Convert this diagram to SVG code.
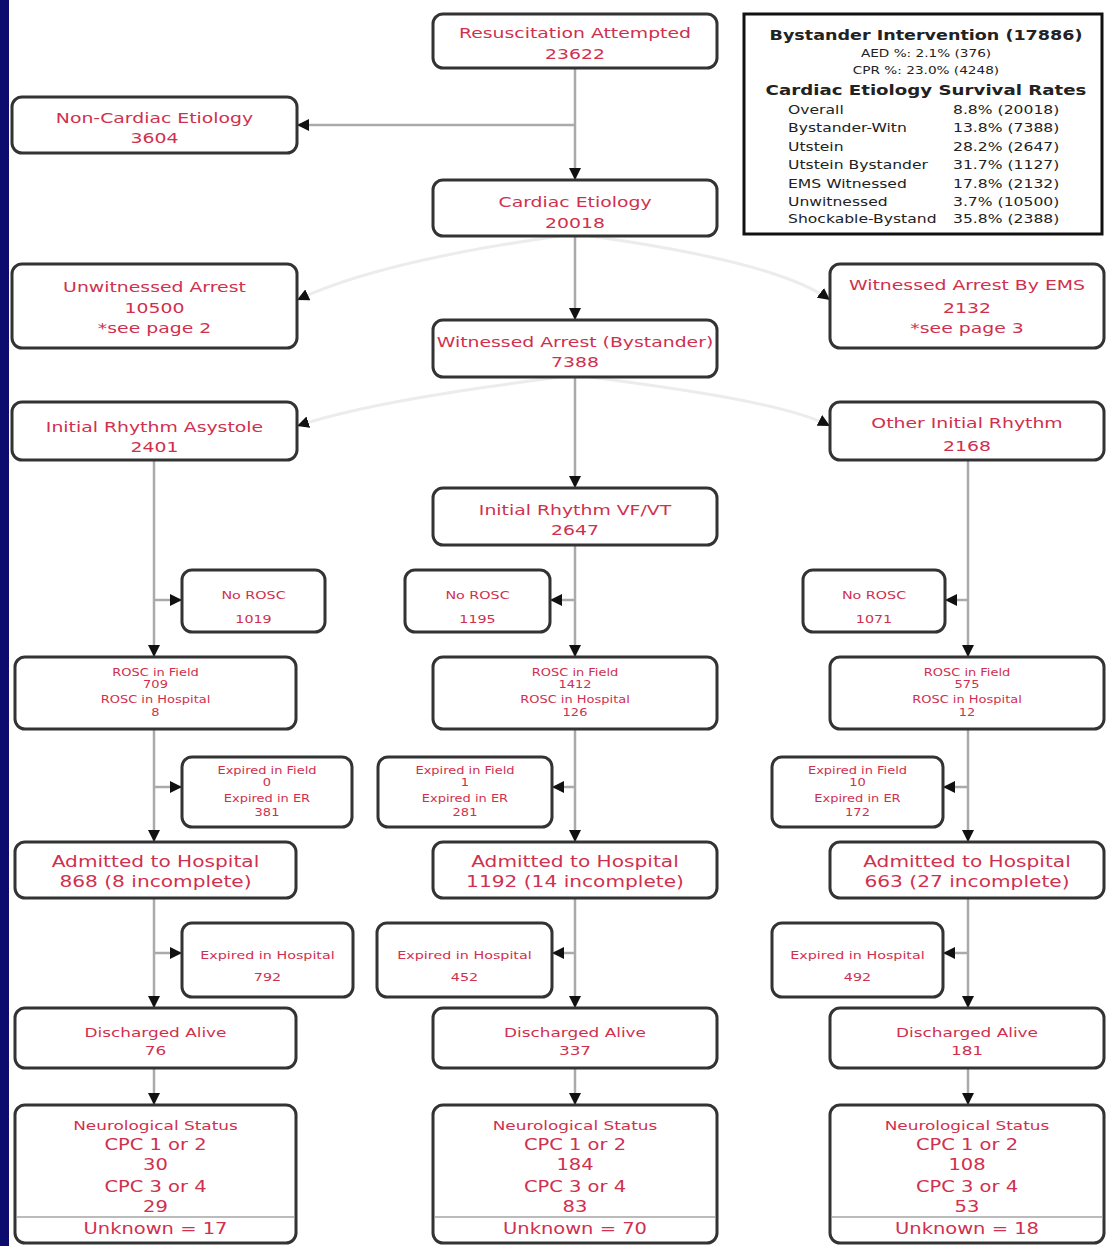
<svg xmlns="http://www.w3.org/2000/svg" width="1107" height="1246" viewBox="0 0 1107 1246">
<defs>
<style>
.box{fill:#fff;stroke:#333;stroke-width:3}
.t{font-family:"DejaVu Sans",sans-serif;fill:#d0304e;text-anchor:middle}
.m{font-size:14.5px}
.a{font-size:15.5px}
.d{font-size:13px}
.n{font-size:15px}
.s{font-size:11px}
.xs{font-size:10px}
.conn{stroke:#aaa;stroke-width:2.5;fill:none}
.faint{stroke:#ececec;stroke-width:3;fill:none}
.lg{font-family:"DejaVu Sans",sans-serif;fill:#222}
.lgb{font-weight:bold;text-anchor:middle}
</style>
<marker id="ah" markerUnits="userSpaceOnUse" markerWidth="12" markerHeight="12" refX="12" refY="6" orient="auto">
<path d="M0,0 L12,6 L0,12 z" fill="#111"/>
</marker>
</defs>
<rect x="0" y="0" width="1107" height="1246" fill="#fff"/>
<rect x="0" y="0" width="9" height="1246" fill="#0c0c6e"/>

<g id="connectors">
<path class="conn" d="M575,68 V180" marker-end="url(#ah)"/>
<path class="conn" d="M575,125 H297" marker-end="url(#ah)"/>
<path class="conn" d="M575,236 V320" marker-end="url(#ah)"/>
<path class="conn" d="M575,377 V488" marker-end="url(#ah)"/>
<path class="faint" d="M560,236 C460,250 360,270 297,300" marker-end="url(#ah)"/>
<path class="faint" d="M590,236 C690,250 790,270 830,300" marker-end="url(#ah)"/>
<path class="faint" d="M560,377 C460,390 360,405 297,426" marker-end="url(#ah)"/>
<path class="faint" d="M590,377 C690,390 790,405 830,426" marker-end="url(#ah)"/>
<path class="conn" d="M154,460 V657" marker-end="url(#ah)"/>
<path class="conn" d="M154,600 H182" marker-end="url(#ah)"/>
<path class="conn" d="M154,729 V842" marker-end="url(#ah)"/>
<path class="conn" d="M154,787 H182" marker-end="url(#ah)"/>
<path class="conn" d="M154,898 V1008" marker-end="url(#ah)"/>
<path class="conn" d="M154,953 H182" marker-end="url(#ah)"/>
<path class="conn" d="M154,1068 V1105" marker-end="url(#ah)"/>
<path class="conn" d="M575,545 V657" marker-end="url(#ah)"/>
<path class="conn" d="M575,600 H550" marker-end="url(#ah)"/>
<path class="conn" d="M575,729 V842" marker-end="url(#ah)"/>
<path class="conn" d="M575,787 H552" marker-end="url(#ah)"/>
<path class="conn" d="M575,898 V1008" marker-end="url(#ah)"/>
<path class="conn" d="M575,953 H552" marker-end="url(#ah)"/>
<path class="conn" d="M575,1068 V1105" marker-end="url(#ah)"/>
<path class="conn" d="M968,460 V657" marker-end="url(#ah)"/>
<path class="conn" d="M968,600 H945" marker-end="url(#ah)"/>
<path class="conn" d="M968,729 V842" marker-end="url(#ah)"/>
<path class="conn" d="M968,787 H943" marker-end="url(#ah)"/>
<path class="conn" d="M968,898 V1008" marker-end="url(#ah)"/>
<path class="conn" d="M968,953 H943" marker-end="url(#ah)"/>
<path class="conn" d="M968,1068 V1105" marker-end="url(#ah)"/>
</g>

<g id="legend">
<rect x="744" y="14" width="358" height="220" fill="#fff" stroke="#111" stroke-width="3"/>
<g class="lg" transform="translate(926 0) scale(1.3 1)">
<text class="lgb" y="40" font-size="13.5">Bystander Intervention (17886)</text>
<text y="57" font-size="10.5" text-anchor="middle">AED %: 2.1% (376)</text>
<text y="74" font-size="10.5" text-anchor="middle">CPR %: 23.0% (4248)</text>
<text class="lgb" y="95" font-size="14">Cardiac Etiology Survival Rates</text>
</g>
<g class="lg" font-size="12" transform="translate(788 0) scale(1.3 1)">
<text y="114">Overall</text>
<text y="132">Bystander-Witn</text>
<text y="151">Utstein</text>
<text y="169">Utstein Bystander</text>
<text y="188">EMS Witnessed</text>
<text y="206">Unwitnessed</text>
<text y="223">Shockable-Bystand</text>
</g>
<g class="lg" font-size="12" transform="translate(953 0) scale(1.3 1)">
<text y="114">8.8% (20018)</text>
<text y="132">13.8% (7388)</text>
<text y="151">28.2% (2647)</text>
<text y="169">31.7% (1127)</text>
<text y="188">17.8% (2132)</text>
<text y="206">3.7% (10500)</text>
<text y="223">35.8% (2388)</text>
</g>
</g>

<g id="resus"><rect class="box" x="433" y="14" width="284" height="54" rx="10"/>
<g class="t m" transform="translate(575 0) scale(1.3 1)"><text y="38">Resuscitation Attempted</text><text y="59">23622</text></g></g>

<g id="noncardiac"><rect class="box" x="12" y="97" width="285" height="56" rx="10"/>
<g class="t m" transform="translate(154.5 0) scale(1.3 1)"><text y="123">Non-Cardiac Etiology</text><text y="143">3604</text></g></g>

<g id="cardiac"><rect class="box" x="433" y="180" width="284" height="56" rx="10"/>
<g class="t m" transform="translate(575 0) scale(1.3 1)"><text y="207">Cardiac Etiology</text><text y="228">20018</text></g></g>

<g id="unwitnessed"><rect class="box" x="12" y="264" width="285" height="84" rx="10"/>
<g class="t m" transform="translate(154.5 0) scale(1.3 1)"><text y="292">Unwitnessed Arrest</text><text y="313">10500</text><text y="333">*see page 2</text></g></g>

<g id="witnessed_ems"><rect class="box" x="830" y="264" width="274" height="84" rx="10"/>
<g class="t m" transform="translate(967 0) scale(1.3 1)"><text y="290">Witnessed Arrest By EMS</text><text y="313">2132</text><text y="333">*see page 3</text></g></g>

<g id="witnessed_bystander"><rect class="box" x="433" y="320" width="284" height="57" rx="10"/>
<g class="t m" transform="translate(575 0) scale(1.3 1)"><text y="347">Witnessed Arrest (Bystander)</text><text y="367">7388</text></g></g>

<g id="asystole"><rect class="box" x="12" y="402" width="285" height="58" rx="10"/>
<g class="t m" transform="translate(154.5 0) scale(1.3 1)"><text y="432">Initial Rhythm Asystole</text><text y="452">2401</text></g></g>

<g id="other_rhythm"><rect class="box" x="830" y="402" width="274" height="58" rx="10"/>
<g class="t m" transform="translate(967 0) scale(1.3 1)"><text y="428">Other Initial Rhythm</text><text y="451">2168</text></g></g>

<g id="vfvt"><rect class="box" x="433" y="488" width="284" height="57" rx="10"/>
<g class="t m" transform="translate(575 0) scale(1.3 1)"><text y="515">Initial Rhythm VF/VT</text><text y="535">2647</text></g></g>

<g id="norosc_l"><rect class="box" x="182" y="570" width="143" height="62" rx="10"/>
<g class="t s" transform="translate(253.5 0) scale(1.3 1)"><text y="599">No ROSC</text><text y="623">1019</text></g></g>
<g id="norosc_c"><rect class="box" x="405" y="570" width="145" height="62" rx="10"/>
<g class="t s" transform="translate(477.5 0) scale(1.3 1)"><text y="599">No ROSC</text><text y="623">1195</text></g></g>
<g id="norosc_r"><rect class="box" x="803" y="570" width="142" height="62" rx="10"/>
<g class="t s" transform="translate(874 0) scale(1.3 1)"><text y="599">No ROSC</text><text y="623">1071</text></g></g>

<g id="rosc_l"><rect class="box" x="15" y="657" width="281" height="72" rx="10"/>
<g class="t xs" transform="translate(155.5 0) scale(1.3 1)"><text y="676">ROSC in Field</text><text y="688">709</text><text y="703">ROSC in Hospital</text><text y="716">8</text></g></g>
<g id="rosc_c"><rect class="box" x="433" y="657" width="284" height="72" rx="10"/>
<g class="t xs" transform="translate(575 0) scale(1.3 1)"><text y="676">ROSC in Field</text><text y="688">1412</text><text y="703">ROSC in Hospital</text><text y="716">126</text></g></g>
<g id="rosc_r"><rect class="box" x="830" y="657" width="274" height="72" rx="10"/>
<g class="t xs" transform="translate(967 0) scale(1.3 1)"><text y="676">ROSC in Field</text><text y="688">575</text><text y="703">ROSC in Hospital</text><text y="716">12</text></g></g>

<g id="expired_field_l"><rect class="box" x="182" y="757" width="170" height="70" rx="10"/>
<g class="t xs" transform="translate(267 0) scale(1.3 1)"><text y="774">Expired in Field</text><text y="786">0</text><text y="802">Expired in ER</text><text y="816">381</text></g></g>
<g id="expired_field_c"><rect class="box" x="378" y="757" width="174" height="70" rx="10"/>
<g class="t xs" transform="translate(465 0) scale(1.3 1)"><text y="774">Expired in Field</text><text y="786">1</text><text y="802">Expired in ER</text><text y="816">281</text></g></g>
<g id="expired_field_r"><rect class="box" x="772" y="757" width="171" height="70" rx="10"/>
<g class="t xs" transform="translate(857.5 0) scale(1.3 1)"><text y="774">Expired in Field</text><text y="786">10</text><text y="802">Expired in ER</text><text y="816">172</text></g></g>

<g id="admitted_l"><rect class="box" x="15" y="842" width="281" height="56" rx="10"/>
<g class="t a" transform="translate(155.5 0) scale(1.3 1)"><text y="867">Admitted to Hospital</text><text y="887">868 (8 incomplete)</text></g></g>
<g id="admitted_c"><rect class="box" x="433" y="842" width="284" height="56" rx="10"/>
<g class="t a" transform="translate(575 0) scale(1.3 1)"><text y="867">Admitted to Hospital</text><text y="887">1192 (14 incomplete)</text></g></g>
<g id="admitted_r"><rect class="box" x="830" y="842" width="274" height="56" rx="10"/>
<g class="t a" transform="translate(967 0) scale(1.3 1)"><text y="867">Admitted to Hospital</text><text y="887">663 (27 incomplete)</text></g></g>

<g id="expired_hosp_l"><rect class="box" x="182" y="923" width="171" height="74" rx="10"/>
<g class="t s" transform="translate(267.5 0) scale(1.3 1)"><text y="959">Expired in Hospital</text><text y="981">792</text></g></g>
<g id="expired_hosp_c"><rect class="box" x="377" y="923" width="175" height="74" rx="10"/>
<g class="t s" transform="translate(464.5 0) scale(1.3 1)"><text y="959">Expired in Hospital</text><text y="981">452</text></g></g>
<g id="expired_hosp_r"><rect class="box" x="772" y="923" width="171" height="74" rx="10"/>
<g class="t s" transform="translate(857.5 0) scale(1.3 1)"><text y="959">Expired in Hospital</text><text y="981">492</text></g></g>

<g id="discharged_l"><rect class="box" x="15" y="1008" width="281" height="60" rx="10"/>
<g class="t d" transform="translate(155.5 0) scale(1.3 1)"><text y="1037">Discharged Alive</text><text y="1055">76</text></g></g>
<g id="discharged_c"><rect class="box" x="433" y="1008" width="284" height="60" rx="10"/>
<g class="t d" transform="translate(575 0) scale(1.3 1)"><text y="1037">Discharged Alive</text><text y="1055">337</text></g></g>
<g id="discharged_r"><rect class="box" x="830" y="1008" width="274" height="60" rx="10"/>
<g class="t d" transform="translate(967 0) scale(1.3 1)"><text y="1037">Discharged Alive</text><text y="1055">181</text></g></g>

<g id="neuro_l"><rect class="box" x="15" y="1105" width="281" height="138" rx="10"/>
<line x1="17" y1="1217" x2="294" y2="1217" stroke="#bbb" stroke-width="2"/>
<g class="t" transform="translate(155.5 0) scale(1.3 1)"><text class="d" y="1130">Neurological Status</text><text class="n" y="1150">CPC 1 or 2</text><text class="n" y="1170">30</text><text class="n" y="1192">CPC 3 or 4</text><text class="n" y="1212">29</text><text class="n" y="1234">Unknown = 17</text></g></g>
<g id="neuro_c"><rect class="box" x="433" y="1105" width="284" height="138" rx="10"/>
<line x1="435" y1="1217" x2="715" y2="1217" stroke="#bbb" stroke-width="2"/>
<g class="t" transform="translate(575 0) scale(1.3 1)"><text class="d" y="1130">Neurological Status</text><text class="n" y="1150">CPC 1 or 2</text><text class="n" y="1170">184</text><text class="n" y="1192">CPC 3 or 4</text><text class="n" y="1212">83</text><text class="n" y="1234">Unknown = 70</text></g></g>
<g id="neuro_r"><rect class="box" x="830" y="1105" width="274" height="138" rx="10"/>
<line x1="832" y1="1217" x2="1102" y2="1217" stroke="#bbb" stroke-width="2"/>
<g class="t" transform="translate(967 0) scale(1.3 1)"><text class="d" y="1130">Neurological Status</text><text class="n" y="1150">CPC 1 or 2</text><text class="n" y="1170">108</text><text class="n" y="1192">CPC 3 or 4</text><text class="n" y="1212">53</text><text class="n" y="1234">Unknown = 18</text></g></g>
</svg>
